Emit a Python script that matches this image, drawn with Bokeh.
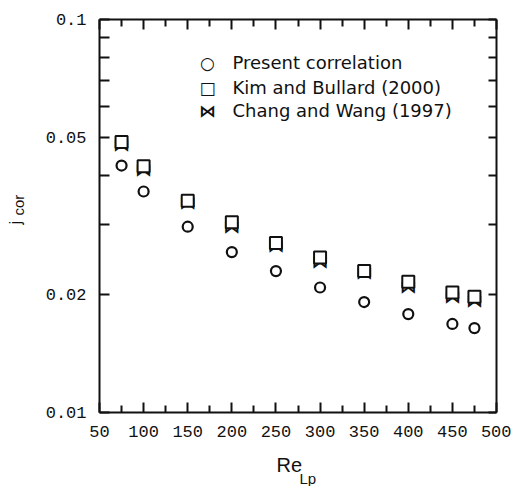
import math
from bokeh.plotting import figure
from bokeh.models import (FixedTicker, LinearAxis, LogAxis, Label, ColumnDataSource)
from bokeh.core.properties import value
from bokeh.embed import file_html
from bokeh.resources import INLINE

# ---- data ----
re_lp = [75, 100, 150, 200, 250, 300, 350, 400, 450, 475]
j_present = [0.0425, 0.0365, 0.0297, 0.0256, 0.0229, 0.0208, 0.0191, 0.0178, 0.0168, 0.0164]
j_kim = [0.0488, 0.0423, 0.0346, 0.0305, 0.0270, 0.0248, 0.0229, 0.0215, 0.0202, 0.0197]
j_chang = [0.0480, 0.0415, 0.0342, 0.0297, 0.0265, 0.0242, 0.0226, 0.0209, 0.0197, 0.0192]

series_names = ["Present correlation", "Kim and Bullard (2000)", "Chang and Wang (1997)"]
series_symbols = ["\u25CB", "\u25A1", "\u22C8"]

x_ticks = [50, 100, 150, 200, 250, 300, 350, 400, 450, 500]
x_minor = [75, 125, 175, 225, 275, 325, 375, 425, 475]
y_ticks = [0.01, 0.02, 0.05, 0.1]
y_tick_labels = ["0.01", "0.02", "0.05", "0.1"]
y_minor = [0.03, 0.04, 0.06, 0.07, 0.08, 0.09]

x_label_main, x_label_sub = "Re", "Lp"
y_label_main, y_label_sub = "j", "cor"

INK = "#111111"
TICK_FONT = "Liberation Mono"
TEXT_FONT = "DejaVu Sans"

p = figure(width=511, height=486, x_range=(50, 500), y_range=(0.01, 0.1),
           y_axis_type="log", output_backend="svg", toolbar_location=None,
           min_border_left=99, min_border_right=15, min_border_top=19,
           min_border_bottom=74)
p.outline_line_color = None
p.xgrid.visible = False
p.ygrid.visible = False
p.background_fill_color = "white"
p.border_fill_color = "white"


def style_axis(ax, show_labels):
    ax.axis_line_color = INK
    ax.axis_line_width = 2
    ax.major_tick_line_color = INK
    ax.minor_tick_line_color = INK
    ax.major_tick_line_width = 2
    ax.minor_tick_line_width = 2
    ax.major_tick_in = 10
    ax.major_tick_out = 0
    ax.minor_tick_in = 7
    ax.minor_tick_out = 0
    if show_labels:
        ax.major_label_text_font = TICK_FONT
        ax.major_label_text_font_size = "17px"
        ax.major_label_text_color = INK
    else:
        ax.major_label_text_font_size = "0px"
        ax.major_label_text_color = None
        ax.major_label_standoff = 0


# bottom axis
xa = p.xaxis[0]
xa.ticker = FixedTicker(ticks=x_ticks, minor_ticks=x_minor)
style_axis(xa, True)
xa.major_label_standoff = 13

# left axis
ya = p.yaxis[0]
ya.ticker = FixedTicker(ticks=y_ticks, minor_ticks=y_minor)
style_axis(ya, True)
ya.minor_tick_in = 10
ya.major_label_standoff = 13
ya.major_label_overrides = {v: t for v, t in zip(y_ticks, y_tick_labels)}

# top axis
xt = LinearAxis(ticker=FixedTicker(ticks=x_ticks, minor_ticks=x_minor))
style_axis(xt, False)
p.add_layout(xt, "above")

# right axis
yr = LogAxis(ticker=FixedTicker(ticks=y_ticks, minor_ticks=y_minor))
style_axis(yr, False)
yr.minor_tick_in = 8
yr.major_tick_in = 8
p.add_layout(yr, "right")

# ---- data marks ----
src_chang = ColumnDataSource(dict(x=re_lp, y=j_chang, t=[series_symbols[2]] * len(re_lp)))
p.text(x="x", y="y", text="t", source=src_chang, text_align="center",
       text_baseline="middle", text_font=value(TEXT_FONT), text_font_size="17px",
       text_font_style="bold", text_color=INK)

p.scatter(re_lp, j_kim, marker="square", size=12, line_width=2,
          line_color=INK, fill_color="white")
p.scatter(re_lp, j_present, marker="circle", size=10, line_width=2.2,
          line_color=INK, fill_color="white")

# ---- legend (drawn as text) ----
leg_y = [62, 87, 110]
for name, sym, yy, fs in zip(series_names, series_symbols, leg_y, ["17px", "17px", "17px"]):
    p.add_layout(Label(x=207, y=yy, x_units="canvas", y_units="canvas", text=sym,
                       text_align="center", text_baseline="middle",
                       text_font=TEXT_FONT, text_font_size=fs,
                       text_font_style="bold", text_color=INK))
    p.add_layout(Label(x=232, y=yy, x_units="canvas", y_units="canvas", text=name,
                       text_align="left", text_baseline="middle",
                       text_font=TEXT_FONT, text_font_size="18px", text_color=INK))

# ---- axis titles with subscripts (placed in the side panels) ----
p.add_layout(Label(x=276, y=464, x_units="canvas", y_units="canvas", text=x_label_main,
                   text_align="left", text_baseline="middle", text_font="Liberation Sans",
                   text_font_size="20px", text_color=INK), "below")
p.add_layout(Label(x=299, y=478, x_units="canvas", y_units="canvas", text=x_label_sub,
                   text_align="left", text_baseline="middle", text_font="Liberation Sans",
                   text_font_size="15px", text_color=INK), "below")
p.add_layout(Label(x=15, y=224, x_units="canvas", y_units="canvas", text=y_label_main,
                   angle=math.pi / 2, text_align="left", text_baseline="middle",
                   text_font="Liberation Sans", text_font_size="17px", text_color=INK), "left")
p.add_layout(Label(x=18, y=215, x_units="canvas", y_units="canvas", text=y_label_sub,
                   angle=math.pi / 2, text_align="left", text_baseline="middle",
                   text_font="Liberation Sans", text_font_size="15px", text_color=INK), "left")

open("out.html", "w").write(file_html(p, INLINE))
